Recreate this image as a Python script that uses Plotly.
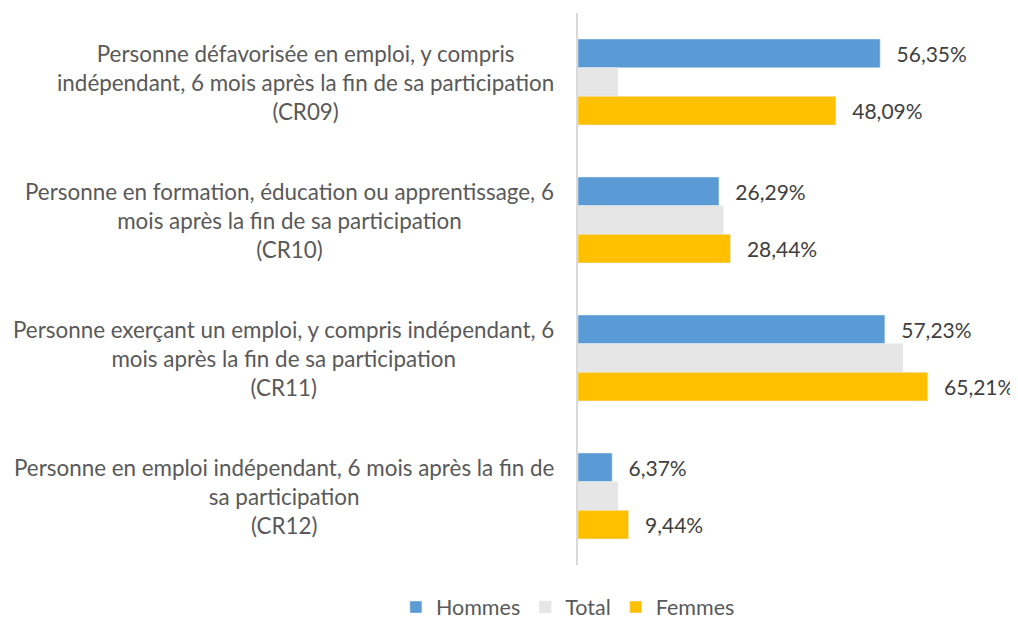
import plotly.graph_objects as go

categories = ["CR09", "CR10", "CR11", "CR12"]
label_lines = [
    ["Personne défavorisée en emploi, y compris",
     "indépendant, 6 mois après la fin de sa participation",
     "(CR09)"],
    ["Personne en formation, éducation ou apprentissage, 6",
     "mois après la fin de sa participation",
     "(CR10)"],
    ["Personne exerçant un emploi, y compris indépendant, 6",
     "mois après la fin de sa participation",
     "(CR11)"],
    ["Personne en emploi indépendant, 6 mois après la fin de",
     "sa participation",
     "(CR12)"],
]
hommes = [56.35, 26.29, 57.23, 6.37]
total = [7.46, 27.1, 60.6, 7.46]
femmes = [48.09, 28.44, 65.21, 9.44]

FONT = "Lato, 'Noto Sans', sans-serif"
pad = "\u00a0\u00a0\u2009"

fig = go.Figure()
fig.add_trace(go.Bar(name="Hommes", y=categories, x=hommes, orientation="h",
                     marker=dict(color="#5B9BD5"),
                     texttemplate=pad + "%{x:.2f}%", textposition="outside",
                     textfont=dict(family=FONT, size=21, color="#404040"),
                     cliponaxis=False, constraintext="none"))
fig.add_trace(go.Bar(name="Total", y=categories, x=total, orientation="h",
                     marker=dict(color="#E7E6E6")))
fig.add_trace(go.Bar(name="Femmes", y=categories, x=femmes, orientation="h",
                     marker=dict(color="#FFC000"),
                     texttemplate=pad + "%{x:.2f}%", textposition="outside",
                     textfont=dict(family=FONT, size=21, color="#404040"),
                     cliponaxis=False, constraintext="none"))

annotations = []
for cat, lines in zip(categories, label_lines):
    annotations.append(dict(
        xref="paper", yref="y", x=-0.0545, y=cat, xanchor="right",
        yanchor="middle", align="center", text="<br>".join(lines),
        showarrow=False, borderpad=0,
        font=dict(family=FONT, size=22.4, color="#595959")))

fig.update_layout(
    width=1018, height=624,
    margin=dict(l=570, r=26, t=5, b=67),
    paper_bgcolor="white", plot_bgcolor="white",
    barmode="group", bargap=0.377, bargroupgap=0,
    separators=", ",
    font=dict(family=FONT, size=21, color="#595959"),
    xaxis=dict(range=[0, 78.7], showgrid=False, zeroline=False,
               showticklabels=False, showline=False, fixedrange=True),
    yaxis=dict(autorange="reversed", showgrid=False, zeroline=False,
               showticklabels=False, showline=True, linecolor="#D9D9D9",
               linewidth=1.5, ticks=""),
    showlegend=True,
    legend=dict(orientation="h", xref="container", yref="container",
                x=0.550, y=0.040, xanchor="center", yanchor="middle",
                font=dict(family=FONT, size=21.5, color="#595959"),
                traceorder="normal"),
    annotations=annotations,
)

fig.write_html("out.html")
